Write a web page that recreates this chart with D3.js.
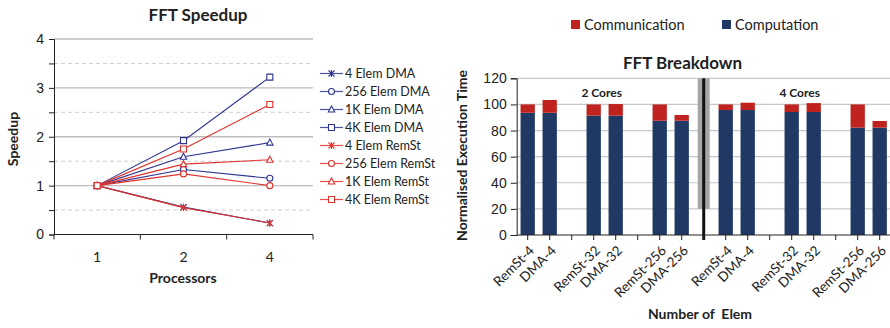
<!DOCTYPE html>
<html>
<head>
<meta charset="utf-8">
<script src="https://cdn.jsdelivr.net/npm/d3@7"></script>
<style>
  html, body { margin: 0; padding: 0; background: #fff; }
  svg { display: block; font-family: Lato, "Open Sans", sans-serif; }
</style>
</head>
<body>
<svg id="chart" width="890" height="328"></svg>
<script>
// ---- FFT speedup (line chart) ----
const processors = ["1", "2", "4"];
const speedupNames = ["4 Elem DMA", "256 Elem DMA", "1K Elem DMA", "4K Elem DMA",
                      "4 Elem RemSt", "256 Elem RemSt", "1K Elem RemSt", "4K Elem RemSt"];
const dma4 = [1, 0.56, 0.235];
const dma256 = [1, 1.33, 1.15];
const dma1k = [1, 1.59, 1.88];
const dma4k = [1, 1.92, 3.22];
const remst4 = [1, 0.55, 0.235];
const remst256 = [1, 1.24, 1.0];
const remst1k = [1, 1.44, 1.53];
const remst4k = [1, 1.75, 2.66];
const speedupTicks = [0, 1, 2, 3, 4];

// ---- FFT breakdown (stacked bars) ----
const elemLabels = ["RemSt-4", "DMA-4", "", "RemSt-32", "DMA-32", "", "RemSt-256", "DMA-256", "",
                    "RemSt-4", "DMA-4", "", "RemSt-32", "DMA-32", "", "RemSt-256", "DMA-256"];
const computation = [93.6, 93.6, null, 91.4, 91.4, null, 87.5, 87.5, null,
                     95.7, 95.7, null, 94.2, 94.2, null, 82.2, 82.2];
const communication = [6.4, 9.8, null, 8.6, 8.9, null, 12.5, 4.4, null,
                       4.3, 5.6, null, 5.8, 6.8, null, 17.8, 5.1];
const coreGroups = ["2 Cores", "4 Cores"];
const breakdownTicks = [0, 20, 40, 60, 80, 100, 120];

const svg = d3.select("#chart");
const BLUE = "#2e3590", RED = "#e0322c";
const NAVY = "#1f3864", DRED = "#c0231f";
const GRID = "#c8c8c8", AXIS = "#222";

// ================= Left chart =================
{
  const x = d3.scaleBand().domain(processors).range([54, 313]);
  const y = d3.scaleLinear().domain([0, 4]).range([234.5, 39]);
  const g = svg.append("g");

  // gridlines: solid at integers, dashed at halves
  const gridVals = d3.range(0.5, 4.01, 0.5);
  g.selectAll("line.grid").data(gridVals).join("line")
    .attr("x1", 54).attr("x2", 313)
    .attr("y1", d => y(d)).attr("y2", d => y(d))
    .attr("stroke", d => Number.isInteger(d) ? "#bdbdbd" : "#cfcfcf")
    .attr("stroke-width", d => Number.isInteger(d) ? 1.3 : 1)
    .attr("stroke-dasharray", d => Number.isInteger(d) ? null : "4,3");

  // y axis
  const yAxis = d3.axisLeft(y).tickValues(d3.range(0, 4.01, 0.5)).tickSize(5)
    .tickFormat(d => Number.isInteger(d) ? d : "");
  const ya = g.append("g").attr("transform", "translate(54,0)").call(yAxis);
  ya.select(".domain").attr("stroke", AXIS);
  ya.selectAll(".tick line").attr("stroke", AXIS);
  ya.selectAll(".tick text").attr("font-size", 14).attr("fill", "#222").attr("x", -10);

  // x axis with ticks at band boundaries
  const xa = g.append("g").attr("transform", "translate(0,234.5)");
  xa.append("line").attr("x1", 54).attr("x2", 313).attr("stroke", AXIS);
  const bounds = processors.map(p => x(p)).concat([x(processors[2]) + x.bandwidth()]);
  xa.selectAll("line.t").data(bounds).join("line")
    .attr("x1", d => d).attr("x2", d => d).attr("y1", 0).attr("y2", 5).attr("stroke", AXIS);
  xa.selectAll("text").data(processors).join("text")
    .attr("x", d => x(d) + x.bandwidth() / 2).attr("y", 27)
    .attr("text-anchor", "middle").attr("font-size", 14).attr("fill", "#222").text(d => d);

  // titles
  g.append("text").attr("x", 198).attr("y", 21).attr("text-anchor", "middle")
    .attr("font-size", 17).attr("font-weight", "bold").attr("fill", "#222").text("FFT Speedup");
  g.append("text").attr("x", 183).attr("y", 283).attr("text-anchor", "middle")
    .attr("font-size", 14).attr("font-weight", "bold").attr("fill", "#222").text("Processors");
  g.append("text").attr("transform", "translate(18,139) rotate(-90)").attr("text-anchor", "middle")
    .attr("font-size", 14).attr("font-weight", "bold").attr("fill", "#222").text("Speedup");

  const series = [dma4, dma256, dma1k, dma4k, remst4, remst256, remst1k, remst4k];
  const kinds = ["star", "circle", "triangle", "square", "star", "circle", "triangle", "square"];
  const colors = [BLUE, BLUE, BLUE, BLUE, RED, RED, RED, RED];

  const marker = (kind) => {
    if (kind === "circle") return "M3,0A3,3,0,1,1,-3,0A3,3,0,1,1,3,0Z";
    if (kind === "square") return "M-3,-3H3V3H-3Z";
    if (kind === "triangle") return "M0,-3.5L3.2,2.5H-3.2Z";
    return "M-3,-3L3,3M-3,3L3,-3M0,-3.5V3.5";
  };
  const cx = d => x(d) + x.bandwidth() / 2;
  const line = d3.line().x((d, i) => cx(processors[i])).y(d => y(d));

  series.forEach((vals, si) => {
    const sg = g.append("g");
    sg.append("path").datum(vals).attr("d", line)
      .attr("fill", "none").attr("stroke", colors[si]).attr("stroke-width", 1.1);
    sg.selectAll("path.m").data(vals).join("path").attr("class", "m")
      .attr("transform", (d, i) => `translate(${cx(processors[i])},${y(d)})`)
      .attr("d", marker(kinds[si]))
      .attr("fill", kinds[si] === "star" ? "none" : "#fff")
      .attr("stroke", colors[si]).attr("stroke-width", 1.1);
  });

  // legend
  const lg = g.append("g");
  speedupNames.forEach((name, i) => {
    const ly = 73.5 + i * 18;
    lg.append("line").attr("x1", 320).attr("x2", 343).attr("y1", ly).attr("y2", ly)
      .attr("stroke", colors[i]).attr("stroke-width", 1.2).attr("opacity", 0.85);
    lg.append("path").attr("transform", `translate(331.5,${ly})`).attr("d", marker(kinds[i]))
      .attr("fill", kinds[i] === "star" ? "none" : "#fff").attr("stroke", colors[i]).attr("stroke-width", 1.1);
    lg.append("text").attr("x", 345).attr("y", ly + 4.5).attr("font-size", 12.5)
      .attr("fill", "#222").text(name);
  });
}

// ================= Right chart =================
{
  const idx = elemLabels.map((d, i) => i);
  const x = d3.scaleBand().domain(idx).range([516.7, 890.7]).paddingInner(0.35).paddingOuter(0.175);
  const y = d3.scaleLinear().domain([0, 120]).range([235, 78.3]);
  const g = svg.append("g");
  const step = x.step();
  const center = i => x(i) + x.bandwidth() / 2;

  // gridlines
  g.selectAll("line.grid").data(breakdownTicks.slice(1)).join("line")
    .attr("x1", 516.7).attr("x2", 890).attr("y1", d => y(d)).attr("y2", d => y(d))
    .attr("stroke", GRID).attr("stroke-width", 1.2);

  // separator between core groups
  const sepIdx = 8;
  g.append("rect").attr("x", center(sepIdx) - 6).attr("width", 12)
    .attr("y", y(120)).attr("height", y(20) - y(120)).attr("fill", "#a6a6a6");
  g.append("line").attr("x1", center(sepIdx)).attr("x2", center(sepIdx))
    .attr("y1", y(120)).attr("y2", y(0) + 5).attr("stroke", "#111").attr("stroke-width", 3);

  // bars
  const rows = idx.filter(i => computation[i] != null);
  g.selectAll("rect.comp").data(rows).join("rect")
    .attr("x", i => x(i)).attr("width", x.bandwidth())
    .attr("y", i => y(computation[i])).attr("height", i => y(0) - y(computation[i]))
    .attr("fill", NAVY);
  g.selectAll("rect.comm").data(rows).join("rect")
    .attr("x", i => x(i)).attr("width", x.bandwidth())
    .attr("y", i => y(computation[i] + communication[i]))
    .attr("height", i => y(computation[i]) - y(computation[i] + communication[i]))
    .attr("fill", DRED);

  // y axis
  const yAxis = d3.axisLeft(y).tickValues(breakdownTicks).tickSize(6);
  const ya = g.append("g").attr("transform", "translate(516.7,0)").call(yAxis);
  ya.select(".domain").attr("stroke", AXIS);
  ya.selectAll(".tick line").attr("stroke", AXIS);
  ya.selectAll(".tick text").attr("font-size", 14).attr("fill", "#222").attr("x", -10);

  // x axis
  const xa = g.append("g").attr("transform", `translate(0,${y(0)})`);
  xa.append("line").attr("x1", 516.7).attr("x2", 890).attr("stroke", AXIS);
  xa.selectAll("line.t").data(idx).join("line")
    .attr("x1", i => center(i)).attr("x2", i => center(i)).attr("y1", 0).attr("y2", 5).attr("stroke", AXIS);
  xa.selectAll("text").data(idx.filter(i => elemLabels[i])).join("text")
    .attr("transform", i => `translate(${center(i) + 4},13) rotate(-45)`)
    .attr("text-anchor", "end").attr("dy", "0.35em")
    .attr("font-size", 13.5).attr("fill", "#222").text(i => elemLabels[i]);

  // group labels
  [[0, 7], [9, 16]].forEach(([a, b], gi) => {
    g.append("text").attr("x", (center(a) + center(b)) / 2 - 3).attr("y", 96.5)
      .attr("text-anchor", "middle").attr("font-size", 12).attr("font-weight", "bold")
      .attr("fill", "#222").text(coreGroups[gi]);
  });

  // titles
  g.append("text").attr("x", 682.5).attr("y", 68.5).attr("text-anchor", "middle")
    .attr("font-size", 17).attr("font-weight", "bold").attr("fill", "#222").text("FFT Breakdown");
  g.append("text").attr("x", 700).attr("y", 319).attr("text-anchor", "middle")
    .attr("font-size", 14).attr("font-weight", "bold").attr("fill", "#222").text("Number of  Elem")
    .style("white-space", "pre");
  g.append("text").attr("transform", "translate(467,155.5) rotate(-90)").attr("text-anchor", "middle")
    .attr("font-size", 14).attr("font-weight", "bold").attr("fill", "#222").text("Normalised Execution Time");

  // legend
  const legend = [["Communication", DRED, 571], ["Computation", NAVY, 722]];
  legend.forEach(([name, col, lx]) => {
    g.append("rect").attr("x", lx).attr("y", 20).attr("width", 9).attr("height", 9).attr("fill", col);
    g.append("text").attr("x", lx + 13).attr("y", 29.5).attr("font-size", 14.5)
      .attr("fill", "#222").text(name);
  });
}
</script>
</body>
</html>
